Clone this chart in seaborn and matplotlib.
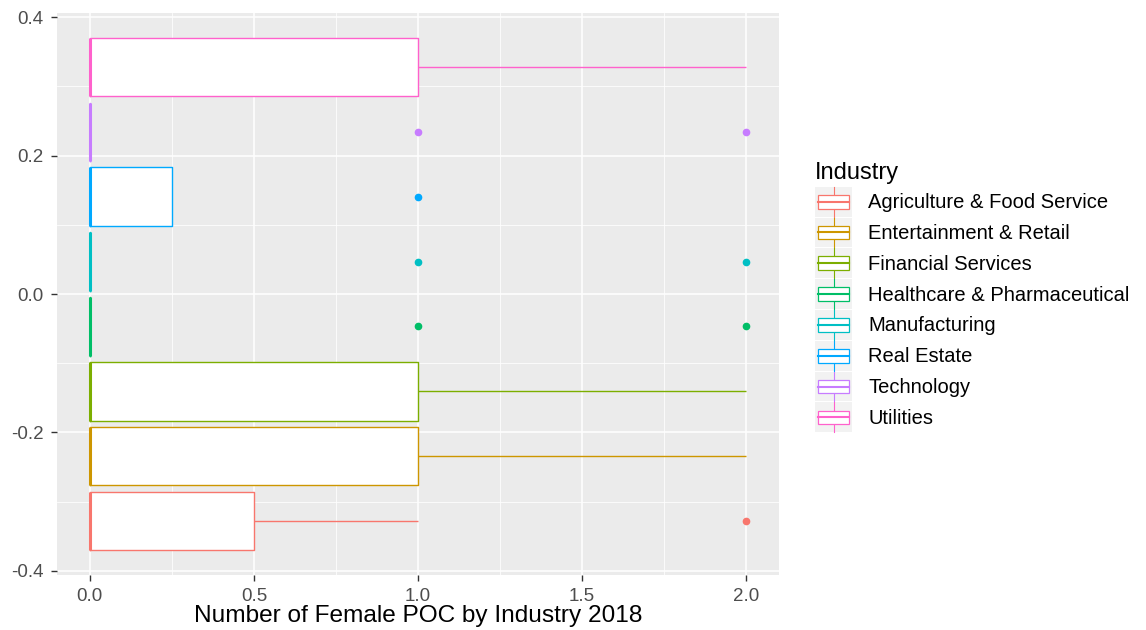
import numpy as np
import pandas as pd
import seaborn as sns
import matplotlib
matplotlib.use("Agg")
import matplotlib.pyplot as plt
from matplotlib.legend_handler import HandlerBase
from matplotlib.patches import Rectangle, Patch
from matplotlib.lines import Line2D

industries = [
    "Agriculture & Food Service",
    "Entertainment & Retail",
    "Financial Services",
    "Healthcare & Pharmaceutical",
    "Manufacturing",
    "Real Estate",
    "Technology",
    "Utilities",
]
colors = ["#F8766D", "#CD9600", "#7CAE00", "#00BE67",
          "#00BFC4", "#00A9FF", "#C77CFF", "#FF61CC"]

# Number of female POC per company, grouped by industry (2018)
agriculture = [0, 0, 0, 0, 0, 1, 2]
entertainment = [0, 0, 0, 1, 2]
financial = [0, 0, 0, 1, 2]
healthcare = [0, 0, 0, 0, 0, 0, 0, 1, 2]
manufacturing = [0, 0, 0, 0, 0, 0, 0, 1, 2]
real_estate = [0, 0, 0, 1]
technology = [0, 0, 0, 0, 0, 0, 0, 1, 2]
utilities = [0, 0, 0, 1, 2]

x_ticks = [0.0, 0.5, 1.0, 1.5, 2.0]
x_tick_labels = ["0.0", "0.5", "1.0", "1.5", "2.0"]
y_ticks = [-0.4, -0.2, 0.0, 0.2, 0.4]
y_tick_labels = ["-0.4", "-0.2", "0.0", "0.2", "0.4"]

series = [agriculture, entertainment, financial, healthcare,
          manufacturing, real_estate, technology, utilities]
df = pd.DataFrame({
    "Industry": [ind for ind, vals in zip(industries, series) for _ in vals],
    "count": [v for vals in series for v in vals],
})
df["group"] = "all"

FONT = "Liberation Sans"
plt.rcParams["font.family"] = [FONT, "DejaVu Sans"]

fig = plt.figure(figsize=(11.46, 6.30), dpi=100)
ax = fig.add_axes([57 / 1146, 1 - 575 / 630, (779 - 57) / 1146, (575 - 13) / 630])
ax.set_facecolor("#EBEBEB")

common = dict(data=df, x="count", y="group", hue="Industry", hue_order=industries,
              orient="h", width=0.75, gap=0.1, dodge=True, legend=False, ax=ax)

# white box bodies underneath
sns.boxplot(**common, palette={k: "white" for k in industries}, fill=True,
            linewidth=0, linecolor="white", showfliers=False, showcaps=False)
# coloured outlines, whiskers, medians and outliers on top
sns.boxplot(**common, palette=dict(zip(industries, colors)), fill=False,
            linewidth=1.0, showcaps=False,
            medianprops={"linewidth": 2.2},
            flierprops={"marker": "o", "markersize": 4.5})

for ln in ax.lines:
    if ln.get_marker() == "o":
        ln.set_markerfacecolor(ln.get_markeredgecolor())

ax.set_xlim(-0.1, 2.1)
ax.set_ylim(-0.406, 0.406)
ax.set_xticks(x_ticks)
ax.set_xticklabels(x_tick_labels)
ax.set_yticks(y_ticks)
ax.set_yticklabels(y_tick_labels)
ax.set_xticks([0.25, 0.75, 1.25, 1.75], minor=True)
ax.set_yticks([-0.3, -0.1, 0.1, 0.3], minor=True)

ax.set_axisbelow(True)
ax.grid(which="major", color="white", linewidth=1.1)
ax.grid(which="minor", color="white", linewidth=0.55)
for s in ax.spines.values():
    s.set_visible(False)
ax.tick_params(which="major", length=4, width=1.0, color="#333333",
               labelcolor="#4D4D4D", labelsize=13.5, pad=5.5)
ax.tick_params(which="minor", length=0)

ax.set_ylabel("")
ax.set_xlabel("Number of Female POC by Industry 2018", fontsize=17.6, color="black", labelpad=0)


class BoxKeyHandler(HandlerBase):
    def create_artists(self, legend, orig_handle, xdescent, ydescent,
                       width, height, fontsize, trans):
        col = orig_handle.get_edgecolor()
        x0, y0 = -xdescent, -ydescent
        bg = Rectangle((x0, y0), width, height, facecolor="#F2F2F2",
                       edgecolor="none", transform=trans)
        cx = x0 + width / 2
        whisk = Line2D([cx, cx], [y0, y0 + height], color=col, lw=0.8, transform=trans)
        box = Rectangle((x0 + width * 0.08, y0 + height * 0.27), width * 0.84, height * 0.46,
                        facecolor="white", edgecolor=col, lw=0.9, transform=trans)
        med = Line2D([x0 + width * 0.08, x0 + width * 0.92], [y0 + height / 2] * 2,
                     color=col, lw=1.5, transform=trans)
        return [bg, whisk, box, med]


handles = [Patch(facecolor="white", edgecolor=c) for c in colors]
leg = fig.legend(handles, industries, title="Industry",
                 handler_map={Patch: BoxKeyHandler()},
                 loc="upper left", bbox_to_anchor=(815 / 1146, 1 - 162 / 630),
                 frameon=False, borderpad=0, fontsize=14.5,
                 handlelength=1.85, handleheight=1.9, labelspacing=0.05,
                 handletextpad=0.8, borderaxespad=0)
leg.get_title().set_fontsize(17)
leg._legend_box.align = "left"
leg._legend_box.sep = 2
for t in leg.get_texts():
    t.set_color("black")

fig.savefig("out.png", dpi=100, facecolor="white")
